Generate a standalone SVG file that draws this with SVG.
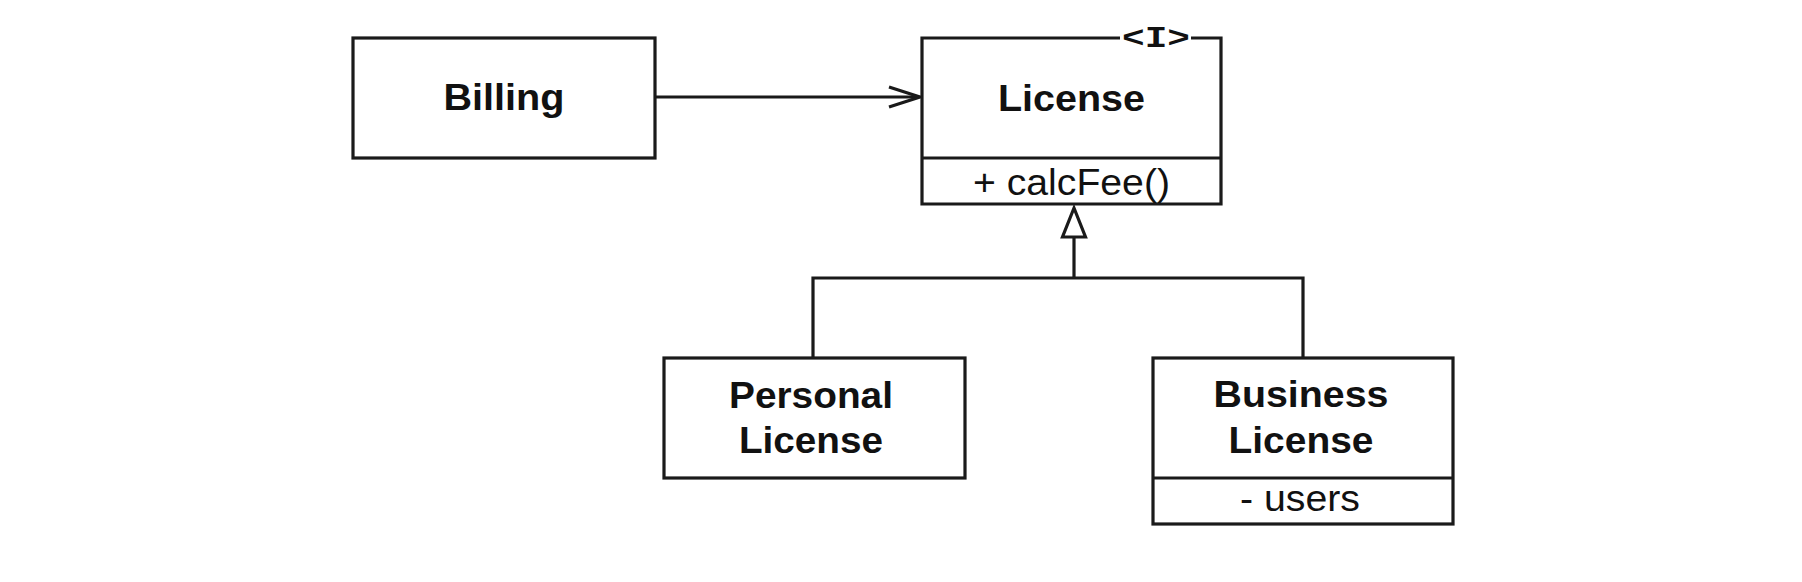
<svg xmlns="http://www.w3.org/2000/svg" width="1802" height="582" viewBox="0 0 1802 582">
<style>
.box{fill:#fff;stroke:#1a1a1a;stroke-width:3.2}
.ln{fill:none;stroke:#1a1a1a;stroke-width:3.2}
.b{font-family:"Liberation Sans",Arial,sans-serif;font-weight:bold;font-size:36px;fill:#111;text-anchor:middle}
.r{font-family:"Liberation Sans",Arial,sans-serif;font-size:37px;fill:#111;text-anchor:middle}
.m{font-family:"Liberation Mono","Courier New",monospace;font-weight:bold;font-size:29px;fill:#111;text-anchor:middle}
</style>
<rect width="1802" height="582" fill="#fff"/>
<g id="connectors">
<line class="ln" x1="655" y1="97" x2="919" y2="97"/>
<polyline class="ln" points="889,87 920,97 889,107"/>
<polyline class="ln" points="813,358 813,278 1303,278 1303,358"/>
<line class="ln" x1="1074" y1="278" x2="1074" y2="237"/>
<polygon class="box" points="1074,208 1062.5,237 1085.5,237"/>
</g>
<g id="billing">
<rect class="box" x="353" y="38" width="302" height="120"/>
<text class="b" x="504" y="110" textLength="121" lengthAdjust="spacingAndGlyphs">Billing</text>
</g>
<g id="license">
<path class="box" d="M1120,38 H922 V204 H1221 V38 H1191"/>
<line class="ln" x1="922" y1="158" x2="1221" y2="158"/>
<text class="m" x="1156" y="47" textLength="68" lengthAdjust="spacingAndGlyphs">&lt;I&gt;</text>
<text class="b" x="1071.5" y="111" textLength="147" lengthAdjust="spacingAndGlyphs">License</text>
<text class="r" x="1071.5" y="195" textLength="197" lengthAdjust="spacingAndGlyphs">+ calcFee()</text>
</g>
<g id="personal-license">
<rect class="box" x="664" y="358" width="301" height="120"/>
<text class="b" x="811" y="408" textLength="164" lengthAdjust="spacingAndGlyphs">Personal</text>
<text class="b" x="811" y="453" textLength="144" lengthAdjust="spacingAndGlyphs">License</text>
</g>
<g id="business-license">
<rect class="box" x="1153" y="358" width="300" height="166"/>
<line class="ln" x1="1153" y1="478" x2="1453" y2="478"/>
<text class="b" x="1301" y="407" textLength="175" lengthAdjust="spacingAndGlyphs">Business</text>
<text class="b" x="1301" y="453" textLength="145" lengthAdjust="spacingAndGlyphs">License</text>
<text class="r" x="1300" y="511" textLength="120" lengthAdjust="spacingAndGlyphs">- users</text>
</g>
</svg>
